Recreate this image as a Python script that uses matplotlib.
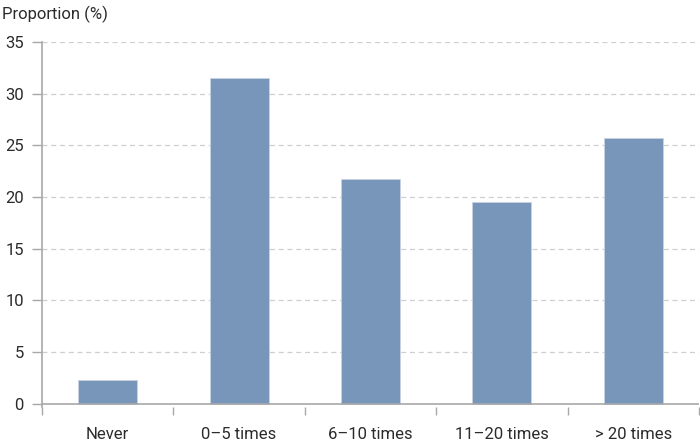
import matplotlib
matplotlib.use("Agg")
import matplotlib.pyplot as plt
import numpy as np

categories = ["Never", "0\u20135 times", "6\u201310 times", "11\u201320 times", "> 20 times"]
values = [2.3, 31.5, 21.7, 19.5, 25.7]
yticks = [0, 5, 10, 15, 20, 25, 30, 35]

plt.rcParams['font.family'] = ['Roboto', 'DejaVu Sans']
text_color = '#2b2b2b'
axis_color = '#a8a8a8'

fig = plt.figure(figsize=(7, 4.44), dpi=100)
ax = fig.add_axes([0.06, 0.0824, 0.9386, 0.8232])

x = np.arange(len(categories))
ax.bar(x, values, width=0.45, color='#7895ba', edgecolor='#c8d3e3', linewidth=0.6, zorder=3)

ax.set_xlim(-0.5, len(categories) - 0.5)
ax.set_ylim(-0.35, 35)

for t in yticks[1:]:
    ax.axhline(t, color='#cfcfcf', linestyle=(0, (4, 3)), linewidth=0.9, zorder=1)
ax.axhline(0, color=axis_color, linewidth=1.2, zorder=4)

ax.set_yticks(yticks)
ax.set_yticklabels([str(t) for t in yticks], fontsize=12, color=text_color)
ax.tick_params(axis='y', direction='out', length=7, width=1, color=axis_color, pad=6)

ax.set_xticks(np.arange(len(categories) + 1) - 0.5)
ax.set_xticklabels([])
ax.tick_params(axis='x', which='major', direction='out', length=6, width=1, color=axis_color)
ax.set_xticks(x, minor=True)
ax.set_xticklabels(categories, minor=True, fontsize=12, color=text_color)
ax.tick_params(axis='x', which='minor', length=0, pad=14)

for s in ['top', 'right', 'bottom']:
    ax.spines[s].set_visible(False)
ax.spines['left'].set_color(axis_color)
ax.spines['left'].set_linewidth(1.2)
ax.spines['left'].set_bounds(-0.35, 35)

fig.text(0.003, 0.968, "Proportion (%)", fontsize=12, color=text_color, ha='left', va='center')

fig.savefig("out.png", dpi=100)
